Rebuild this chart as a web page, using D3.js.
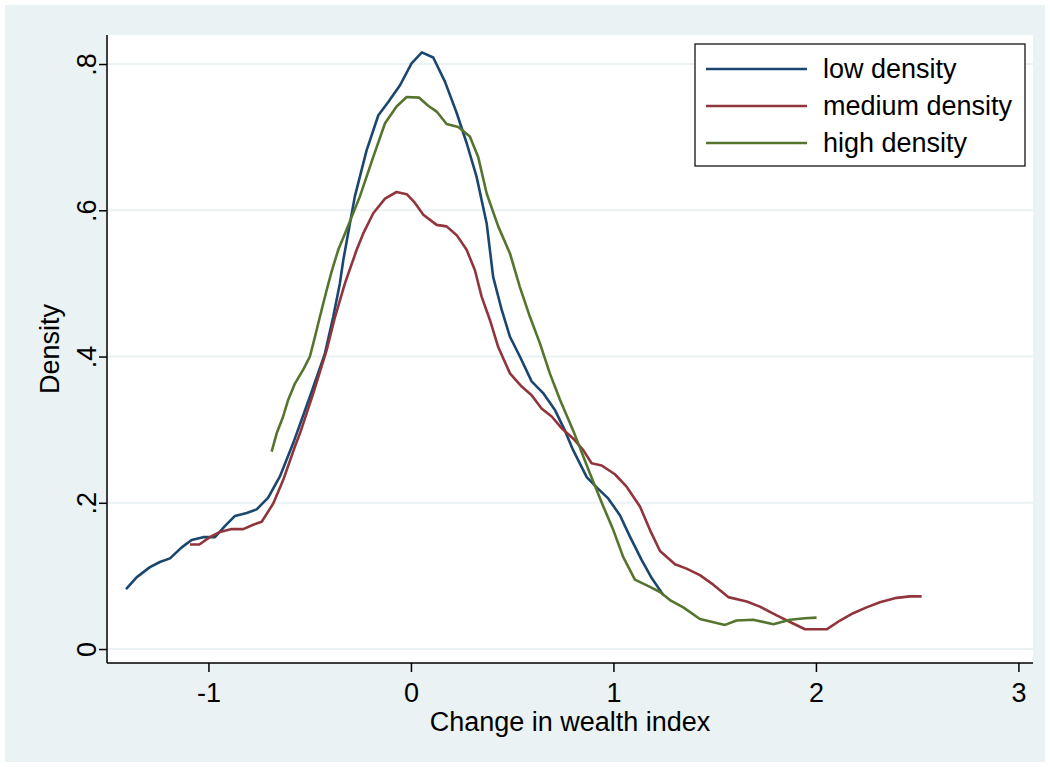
<!DOCTYPE html>
<html>
<head>
<meta charset="utf-8">
<script src="https://cdn.jsdelivr.net/npm/d3@7"></script>
<style>
  body { margin: 0; background: #ffffff; }
  text { font-family: "Liberation Sans", Arial, sans-serif; fill: #000; }
</style>
</head>
<body>
<svg id="chart"></svg>
<script>
// kernel density curves: [change in wealth index, density]
let lowDensity = [
    [-1.407, 0.082], [-1.355, 0.098], [-1.289, 0.112], [-1.240, 0.119], [-1.190, 0.124],
    [-1.132, 0.139], [-1.083, 0.149], [-1.026, 0.153], [-0.968, 0.153], [-0.919, 0.168],
    [-0.869, 0.182], [-0.811, 0.186], [-0.762, 0.191], [-0.705, 0.207], [-0.647, 0.236],
    [-0.581, 0.282], [-0.499, 0.345], [-0.425, 0.404], [-0.384, 0.454], [-0.351, 0.500],
    [-0.334, 0.532], [-0.277, 0.619], [-0.219, 0.682], [-0.161, 0.730], [-0.112, 0.748],
    [-0.054, 0.771], [0.003, 0.801], [0.054, 0.816], [0.110, 0.809], [0.168, 0.776],
    [0.226, 0.733], [0.275, 0.692], [0.324, 0.646], [0.374, 0.582], [0.406, 0.509],
    [0.448, 0.464], [0.489, 0.427], [0.538, 0.400], [0.596, 0.366], [0.653, 0.350],
    [0.711, 0.327], [0.760, 0.299], [0.801, 0.272], [0.868, 0.235], [0.917, 0.221],
    [0.974, 0.206], [1.032, 0.183], [1.081, 0.154], [1.139, 0.122], [1.189, 0.097],
    [1.246, 0.074]
]

let mediumDensity = [
    [-1.091, 0.143], [-1.045, 0.143], [-0.993, 0.153], [-0.943, 0.160], [-0.885, 0.164],
    [-0.828, 0.164], [-0.779, 0.170], [-0.737, 0.174], [-0.680, 0.199], [-0.631, 0.231],
    [-0.573, 0.277], [-0.548, 0.295], [-0.482, 0.350], [-0.416, 0.409], [-0.375, 0.454],
    [-0.326, 0.500], [-0.268, 0.546], [-0.236, 0.568], [-0.186, 0.596], [-0.128, 0.616],
    [-0.071, 0.625], [-0.021, 0.622], [0.020, 0.610], [0.061, 0.594], [0.127, 0.580],
    [0.176, 0.578], [0.226, 0.566], [0.275, 0.546], [0.316, 0.518], [0.349, 0.482],
    [0.390, 0.450], [0.431, 0.413], [0.489, 0.377], [0.547, 0.359], [0.596, 0.347],
    [0.645, 0.329], [0.695, 0.318], [0.744, 0.302], [0.801, 0.288], [0.851, 0.272],
    [0.892, 0.254], [0.942, 0.251], [1.007, 0.239], [1.065, 0.222], [1.131, 0.195],
    [1.180, 0.163], [1.230, 0.134], [1.304, 0.116], [1.361, 0.110], [1.427, 0.101],
    [1.493, 0.088], [1.567, 0.071], [1.658, 0.065], [1.723, 0.058], [1.806, 0.046],
    [1.872, 0.037], [1.946, 0.027], [2.053, 0.027], [2.119, 0.039], [2.184, 0.049],
    [2.250, 0.057], [2.316, 0.064], [2.399, 0.070], [2.464, 0.072], [2.522, 0.072]
]

let highDensity = [
    [-0.688, 0.270], [-0.663, 0.295], [-0.631, 0.318], [-0.606, 0.341], [-0.573, 0.363],
    [-0.532, 0.382], [-0.499, 0.400], [-0.474, 0.427], [-0.441, 0.464], [-0.416, 0.491],
    [-0.392, 0.516], [-0.359, 0.546], [-0.326, 0.568], [-0.252, 0.619], [-0.186, 0.673],
    [-0.128, 0.719], [-0.071, 0.742], [-0.021, 0.755], [0.041, 0.754], [0.085, 0.743],
    [0.127, 0.735], [0.176, 0.718], [0.234, 0.714], [0.291, 0.701], [0.332, 0.673],
    [0.374, 0.623], [0.431, 0.578], [0.489, 0.541], [0.538, 0.495], [0.588, 0.454],
    [0.637, 0.418], [0.686, 0.377], [0.736, 0.341], [0.801, 0.299], [0.884, 0.240],
    [0.950, 0.195], [0.999, 0.163], [1.048, 0.126], [1.106, 0.095], [1.180, 0.085],
    [1.230, 0.078], [1.279, 0.067], [1.345, 0.057], [1.427, 0.041], [1.551, 0.033],
    [1.608, 0.039], [1.690, 0.040], [1.790, 0.034], [1.872, 0.040], [1.946, 0.042],
    [2.003, 0.043]
]

let seriesNames = ["low density", "medium density", "high density"]
let seriesColors = ["#1a476f", "#90353b", "#55752f"]
let xTicks = [-1, 0, 1, 2, 3]
let xTickLabels = ["-1", "0", "1", "2", "3"]
let yTicks = [0, 0.2, 0.4, 0.6, 0.8]
let yTickLabels = ["0", ".2", ".4", ".6", ".8"]

var svg = d3.select("#chart")
    .attr("width", 1050)
    .attr("height", 767)

// stata style light background
svg.append("rect")
    .attr("x", 5).attr("y", 5)
    .attr("width", 1040).attr("height", 757)
    .attr("fill", "#eaf2f3")

var margin = {top: 35, right: 17, bottom: 104, left: 107}
var graphWidth = 1050 - margin.left - margin.right
var graphHeight = 767 - margin.top - margin.bottom

var mainCanvas = svg.append("g")
    .attr("transform", `translate(${margin.left}, ${margin.top})`)

mainCanvas.append("rect")
    .attr("width", graphWidth)
    .attr("height", graphHeight)
    .attr("fill", "#ffffff")

let scX = d3.scaleLinear()
    .domain([-1.501, 3.072])
    .range([0, graphWidth])

let scY = d3.scaleLinear()
    .domain([-0.0191, 0.8397])
    .range([graphHeight, 0])

// gridlines
mainCanvas.selectAll(".grid")
    .data(yTicks).enter().append("line")
    .attr("x1", 0).attr("x2", graphWidth)
    .attr("y1", d => scY(d)).attr("y2", d => scY(d))
    .attr("stroke", "#eaf2f3")
    .attr("stroke-width", 2)

let valueLine = d3.line()
    .x(d => scX(d[0]))
    .y(d => scY(d[1]))

let allSeries = [lowDensity, mediumDensity, highDensity]
mainCanvas.selectAll(".curve")
    .data(allSeries).enter().append("path")
    .attr("class", "curve")
    .attr("d", valueLine)
    .attr("fill", "none")
    .attr("stroke", (d, i) => seriesColors[i])
    .attr("stroke-width", 2.6)
    .attr("stroke-linejoin", "round")

// axes
let xAxis = d3.axisBottom(scX)
    .tickValues(xTicks)
    .tickFormat((d, i) => xTickLabels[i]) // plain hyphen like the original, not d3's minus
    .tickSize(9)
    .tickPadding(11)
let yAxis = d3.axisLeft(scY)
    .tickValues(yTicks)
    .tickFormat((d, i) => yTickLabels[i])
    .tickSize(8)

let gx = mainCanvas.append("g")
    .attr("transform", `translate(0, ${graphHeight})`)
    .call(xAxis)
gx.select(".domain").attr("d", `M0,0H${graphWidth}`)
gx.selectAll("text").attr("font-size", 27).attr("font-family", "Liberation Sans, Arial, sans-serif").attr("fill", "#000")

let gy = mainCanvas.append("g")
    .call(yAxis)
gy.select(".domain").attr("d", `M0,0V${graphHeight}`)
gy.selectAll("text")
    .attr("font-size", 27)
    .attr("font-family", "Liberation Sans, Arial, sans-serif")
    .attr("fill", "#000")
    .attr("text-anchor", "middle")
    .attr("dy", 0)
    .attr("x", 0)
    .attr("transform", "translate(-11, 0) rotate(-90)")
gx.selectAll("path, line").attr("stroke", "#000").attr("stroke-width", 1.5)
gy.selectAll("path, line").attr("stroke", "#000").attr("stroke-width", 1.5)

// axis titles
svg.append("text")
    .attr("x", margin.left + graphWidth / 2)
    .attr("y", 731)
    .attr("text-anchor", "middle")
    .attr("font-size", 27)
    .text("Change in wealth index")

svg.append("text")
    .attr("transform", `translate(59, ${margin.top + graphHeight / 2}) rotate(-90)`)
    .attr("text-anchor", "middle")
    .attr("font-size", 27)
    .text("Density")

// legend
let legend = svg.append("g")
    .attr("transform", "translate(695, 44)")
legend.append("rect")
    .attr("width", 330).attr("height", 122)
    .attr("fill", "#ffffff")
    .attr("stroke", "#000")
    .attr("stroke-width", 1.2)
let items = legend.selectAll(".item")
    .data(seriesNames).enter().append("g")
    .attr("transform", (d, i) => `translate(0, ${25 + i * 37})`)
items.append("line")
    .attr("x1", 11).attr("x2", 112)
    .attr("stroke", (d, i) => seriesColors[i])
    .attr("stroke-width", 2.6)
items.append("text")
    .attr("x", 128)
    .attr("y", 9)
    .attr("font-size", 27)
    .text(d => d)
</script>
</body>
</html>
